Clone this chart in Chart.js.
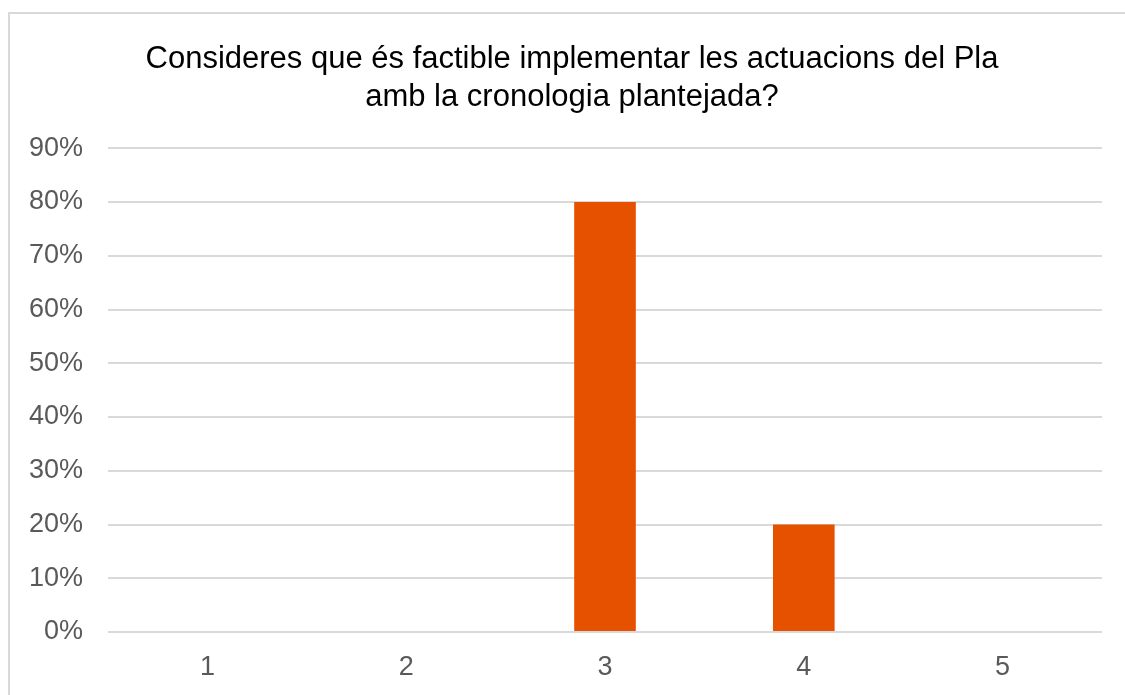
<!DOCTYPE html>
<html>
<head>
<meta charset="utf-8">
<script src="https://cdn.jsdelivr.net/npm/chart.js@4"></script>
<style>
  html, body { margin: 0; padding: 0; background: #fff; overflow: hidden; width: 1125px; height: 695px; }
  #frame { position: absolute; left: 8px; top: 12px; width: 1117px; height: 683px; border-left: 2px solid #d9d9d9; border-top: 2px solid #d9d9d9; box-sizing: border-box; }
  #wrap { position: absolute; left: 0; top: 0; width: 1125px; height: 695px; }
</style>
</head>
<body>
<div id="frame"></div>
<div id="wrap"><canvas id="c" width="1125" height="695"></canvas></div>
<script>
const categories = ['1', '2', '3', '4', '5'];
const values = [0, 0, 0.8, 0.2, 0];
const titleLines = ['Consideres que és factible implementar les actuacions del Pla', 'amb la cronologia plantejada?'];
const yMax = 0.9;
const yStep = 0.1;

const shiftTitle = {
  id: 'shiftTitle',
  afterLayout(chart) {
    const t = chart.titleBlock;
    if (t) { t.left = 42; t.width = t.right - t.left; }
  }
};

new Chart(document.getElementById('c'), {
  type: 'bar',
  data: {
    labels: categories,
    datasets: [{
      data: values,
      backgroundColor: '#e65100',
      borderWidth: 0,
      barPercentage: 0.31,
      categoryPercentage: 1.0
    }]
  },
  plugins: [shiftTitle],
  options: {
    responsive: false,
    animation: false,
    devicePixelRatio: 1,
    layout: { padding: { left: 0, right: 23, top: 40, bottom: 0 } },
    plugins: {
      legend: { display: false },
      tooltip: { enabled: false },
      title: {
        display: true,
        text: titleLines,
        color: '#000000',
        font: { family: 'Liberation Sans', size: 31, weight: 'normal', lineHeight: 1.23 },
        padding: { top: 0, bottom: 32 }
      }
    },
    scales: {
      x: {
        grid: { display: false, drawTicks: false },
        border: { display: false },
        ticks: { color: '#595959', font: { family: 'Liberation Sans', size: 27 }, padding: 19 },
        afterFit: (s) => { s.height = 63; }
      },
      y: {
        min: 0, max: yMax,
        grid: { color: '#d9d9d9', lineWidth: 2, drawTicks: false },
        border: { display: false },
        ticks: {
          stepSize: yStep,
          color: '#595959',
          font: { family: 'Liberation Sans', size: 27 },
          padding: 25,
          callback: (v) => Math.round(v * 100) + '%'
        },
        afterFit: (s) => { s.width = 108; }
      }
    }
  }
});
</script>
</body>
</html>
